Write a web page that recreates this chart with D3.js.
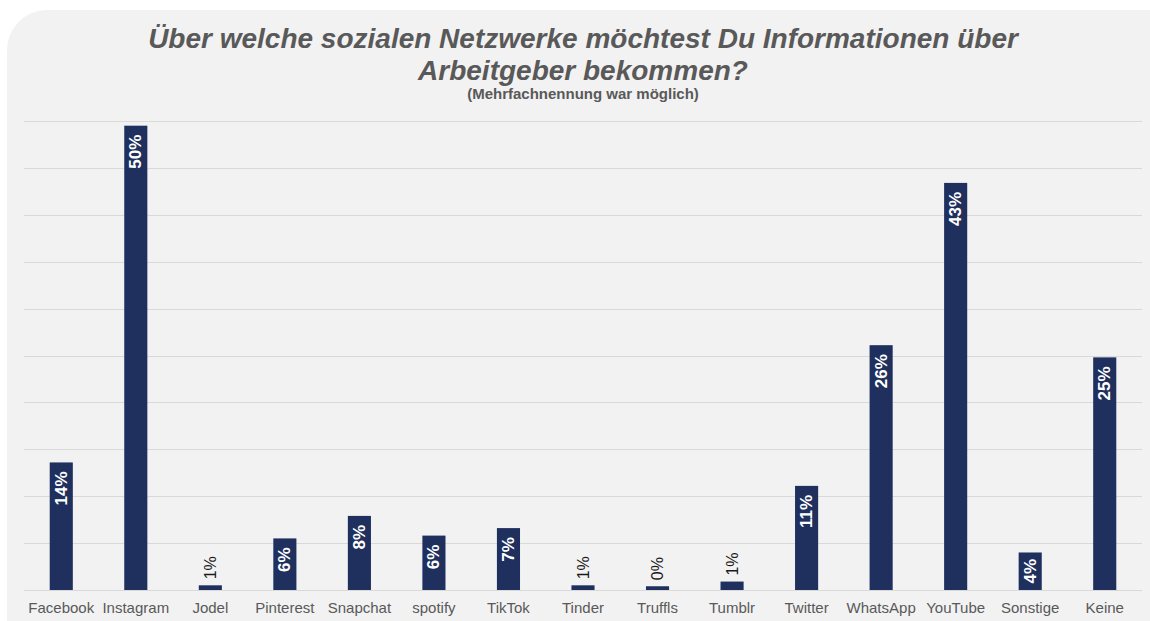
<!DOCTYPE html>
<html>
<head>
<meta charset="utf-8">
<script src="https://cdn.jsdelivr.net/npm/d3@7"></script>
<style>
  html, body { margin: 0; padding: 0; background: #fff; }
  svg { display: block; font-family: "Liberation Sans", Arial, sans-serif; }
</style>
</head>
<body>
<svg id="chart" width="1150" height="621"></svg>
<script>
// Daten (Anteile in %)
const categories = ['Facebook', 'Instagram', 'Jodel', 'Pinterest', 'Snapchat', 'spotify', 'TikTok',
  'Tinder', 'Truffls', 'Tumblr', 'Twitter', 'WhatsApp', 'YouTube', 'Sonstige', 'Keine'];
const values = [13.6, 49.5, 0.5, 5.5, 7.9, 5.8, 6.6, 0.5, 0.4, 0.9, 11.1, 26.1, 43.4, 4.0, 24.8];
const yTicks = [0, 5, 10, 15, 20, 25, 30, 35, 40, 45, 50];
const titleLines = ['Über welche sozialen Netzwerke möchtest Du Informationen über', 'Arbeitgeber bekommen?'];
const subtitle = '(Mehrfachnennung war möglich)';

const svg = d3.select('#chart');
const margin = {top: 121, right: 8, bottom: 31, left: 24};
const width = 1150 - margin.left - margin.right;
const height = 621 - margin.top - margin.bottom;

// Hintergrund
svg.append('rect')
  .attr('x', 7).attr('y', 10)
  .attr('width', 1200).attr('height', 700)
  .attr('rx', 40)
  .attr('fill', '#f2f2f2');

// Titel
const cx = margin.left + width / 2;
svg.selectAll('.title')
  .data(titleLines)
  .enter().append('text')
  .attr('class', 'title')
  .attr('x', cx)
  .attr('y', (d, i) => 48 + i * 32)
  .attr('text-anchor', 'middle')
  .attr('font-size', 28)
  .attr('font-weight', 'bold')
  .attr('font-style', 'italic')
  .attr('fill', '#595959')
  .text(d => d);

svg.append('text')
  .attr('x', cx)
  .attr('y', 99)
  .attr('text-anchor', 'middle')
  .attr('font-size', 15)
  .attr('font-weight', 'bold')
  .attr('fill', '#595959')
  .text(subtitle);

const g = svg.append('g')
  .attr('transform', `translate(${margin.left},${margin.top})`);

const x = d3.scaleBand()
  .domain(categories)
  .range([0, width])
  .paddingInner(0.69)
  .paddingOuter(0.345);

const y = d3.scaleLinear()
  .domain([0, 50])
  .range([height, 0]);

// Gitternetzlinien
g.append('g')
  .selectAll('line')
  .data(yTicks)
  .enter().append('line')
  .attr('x1', 0).attr('x2', width)
  .attr('y1', d => Math.round(y(d)) + 0.5)
  .attr('y2', d => Math.round(y(d)) + 0.5)
  .attr('stroke', '#d9d9d9')
  .attr('stroke-width', 1);

// Balken
g.selectAll('.bar')
  .data(values)
  .enter().append('rect')
  .attr('class', 'bar')
  .attr('x', (d, i) => x(categories[i]))
  .attr('width', x.bandwidth())
  .attr('y', d => y(d))
  .attr('height', d => height - y(d))
  .attr('fill', '#1f305e');

// Datenbeschriftungen (gedreht)
const labels = g.selectAll('.lbl')
  .data(values)
  .enter().append('text')
  .attr('class', 'lbl')
  .attr('dominant-baseline', 'central')
  .text(d => Math.round(d) + '%');

labels.each(function(d, i) {
  const t = d3.select(this);
  const top = y(d);
  const h = height - top;
  const bx = x(categories[i]) + x.bandwidth() / 2;
  t.attr('font-size', 17).attr('font-weight', 'bold');
  let w = this.getComputedTextLength();
  let start, fill;
  if (h >= w + 2) {
    start = top + Math.min(9, (h - w) / 2);
    fill = '#ffffff';
  } else {
    t.attr('font-size', 16).attr('font-weight', 'normal');
    w = this.getComputedTextLength();
    start = top - 6 - w;
    fill = '#1a1a1a';
  }
  // Text läuft von unten nach oben
  t.attr('text-anchor', 'start')
    .attr('fill', fill)
    .attr('transform', `translate(${bx},${start + w}) rotate(-90)`);
});

// Kategorien
g.selectAll('.cat')
  .data(categories)
  .enter().append('text')
  .attr('class', 'cat')
  .attr('x', d => x(d) + x.bandwidth() / 2)
  .attr('y', height + 23)
  .attr('text-anchor', 'middle')
  .attr('font-size', 15)
  .attr('fill', '#595959')
  .text(d => d);
</script>
</body>
</html>
